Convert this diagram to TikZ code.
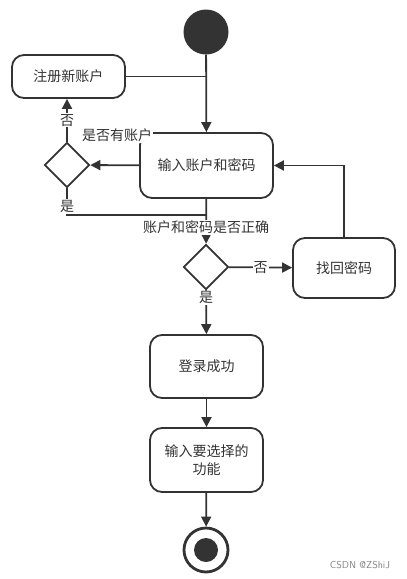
\documentclass[tikz,border=0pt]{standalone}
\usepackage{fontspec}
\newfontfamily\cjk{Noto Sans CJK SC}
\usetikzlibrary{shapes.geometric,arrows.meta}
\definecolor{linegray}{HTML}{333333}
\tikzset{
  act/.style={draw=linegray,line width=1.8pt,rounded corners=12pt,align=center,
    minimum width=113pt,minimum height=63pt,inner sep=2pt,text=linegray,
    font=\cjk\fontsize{14}{18}\selectfont},
  choice/.style={draw=linegray,line width=1.8pt,diamond,minimum width=45pt,minimum height=45pt,inner sep=0pt},
  link/.style={draw=linegray,line width=1.8pt},
  flow/.style={link,-{Triangle[length=10pt,width=10pt]}},
  lbl/.style={fill=white,inner sep=1pt,text=linegray,font=\cjk\fontsize{14}{16}\selectfont}
}
\begin{document}
\begin{tikzpicture}[x=1pt,y=-1pt]
  \useasboundingbox (0,0) rectangle (407,579);
  \node[circle,fill=linegray,minimum size=45pt,inner sep=0pt] (start) at (206,32) {};
  \node[act,minimum height=43pt] (reg) at (68.5,76.5) {注册新账户};
  \node[act,minimum width=133pt,minimum height=65pt] (input) at (206.5,165.5) {输入账户和密码};
  \node[choice] (d1) at (67,165) {};
  \node[choice] (d2) at (206,267) {};
  \node[act,minimum width=102pt,minimum height=60pt] (find) at (344,268) {找回密码};
  \node[act] (ok) at (206.5,366.5) {登录成功};
  \node[act,minimum height=64pt] (func) at (206.5,460) {输入要选择的\\功能};
  \node[circle,draw=linegray,line width=2.8pt,minimum size=44pt,inner sep=0pt] (stop) at (206,550) {};
  \fill[linegray] (stop) circle (12);
  \coordinate (join) at (206,215);

  \draw[flow] (start) -- (input);
  \draw[link] (reg.east) -- (reg.east -| start);
  \draw[flow] (input) -- (d1);
  \draw[flow] (d1.north) -- node[lbl]{否} (d1.north |- reg.south);
  \node[lbl] (ask) at (117,135) {是否有账户};
  \draw[link] (d1.south) |- node[lbl,pos=0.34]{是} (join);
  \draw[flow] (input) -- node[lbl,pos=0.64]{账户和密码是否正确} (d2);
  \draw[flow] (d2) -- node[lbl]{否} (find);
  \draw[flow] (find.north) |- (input.east);
  \draw[flow] (d2) -- node[lbl,pos=0.17]{是} (ok);
  \draw[flow] (ok) -- (func);
  \draw[flow] (func) -- (stop);
  \node[text=gray,font=\sffamily\fontsize{10}{12}\selectfont] (mark) at (360,565) {CSDN @ZShiJ};
\end{tikzpicture}
\end{document}
